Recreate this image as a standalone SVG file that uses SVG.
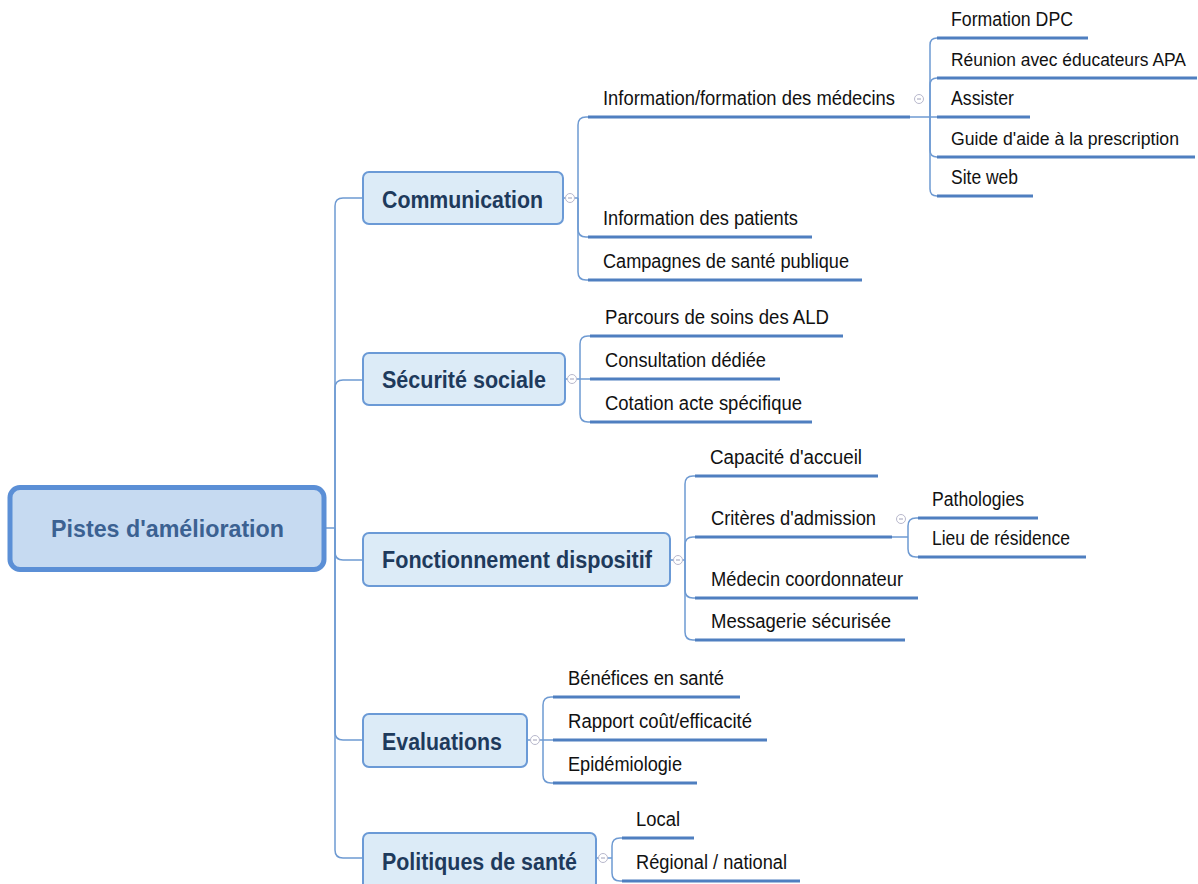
<svg xmlns="http://www.w3.org/2000/svg" width="1198" height="884" viewBox="0 0 1198 884">
<style>
.bg{fill:#ffffff}
.root rect{fill:#c6daf1;stroke:#5b8fd6;stroke-width:5}
.root text{font-family:"Liberation Sans",Arial,sans-serif;font-weight:bold;font-size:24px;fill:#3b6192}
.l1 rect{fill:#dcebf7;stroke:#6b9ad6;stroke-width:2}
.l1 text{font-family:"Liberation Sans",Arial,sans-serif;font-weight:bold;font-size:23px;fill:#1e3a5c}
.leaf text{font-family:"Liberation Sans",Arial,sans-serif;font-size:19.5px;fill:#111111}
.leaf text.sm{font-size:17.5px}
.ul{stroke:#4f7fc0;stroke-width:3;fill:none}
.cn{stroke:#6e9ad2;stroke-width:1.5;fill:none}
.col circle{fill:#ffffff;stroke:#b8b8cc;stroke-width:1}
.col line{stroke:#a0a0b8;stroke-width:1}
</style>
<rect class="bg" x="0" y="0" width="1198" height="884"/>

<g id="connectors">
  <path class="cn" d="M324,528 H335"/>
  <path class="cn" d="M335,528 V206 Q335,198 343,198 H363"/>
  <path class="cn" d="M335,528 V388 Q335,380 343,380 H363"/>
  <path class="cn" d="M335,528 V552 Q335,560 343,560 H363"/>
  <path class="cn" d="M335,528 V732 Q335,740 343,740 H363"/>
  <path class="cn" d="M335,528 V850 Q335,858 343,858 H363"/>
  <path class="cn" d="M563,198 H565.5 M574.5,198 H578"/>
  <path class="cn" d="M578,198 V125 Q578,117 586,117 H588"/>
  <path class="cn" d="M578,198 V229 Q578,237 586,237 H588"/>
  <path class="cn" d="M578,198 V272 Q578,280 586,280 H588"/>
  <path class="cn" d="M910,117 H937"/>
  <path class="cn" d="M930,117 V45 Q930,38 937,38"/>
  <path class="cn" d="M930,117 V85 Q930,78 937,78"/>
  <path class="cn" d="M930,117 V150 Q930,157 937,157"/>
  <path class="cn" d="M930,117 V189 Q930,196 937,196"/>
  <path class="cn" d="M565,379 H567.5 M576.5,379 H590"/>
  <path class="cn" d="M580,379 V344 Q580,336 588,336 H590"/>
  <path class="cn" d="M580,379 V414 Q580,422 588,422 H590"/>
  <path class="cn" d="M670,560 H673.5 M682.5,560 H685"/>
  <path class="cn" d="M685,560 V484 Q685,476 693,476 H695"/>
  <path class="cn" d="M685,560 V545 Q685,537 693,537 H695"/>
  <path class="cn" d="M685,560 V590 Q685,598 693,598 H695"/>
  <path class="cn" d="M685,560 V632 Q685,640 693,640 H695"/>
  <path class="cn" d="M892,537 H908"/>
  <path class="cn" d="M908,537 V526 Q908,518 916,518 H918"/>
  <path class="cn" d="M908,537 V549 Q908,557 916,557 H918"/>
  <path class="cn" d="M527,740 H530.5 M539.5,740 H553"/>
  <path class="cn" d="M543,740 V705 Q543,697 551,697 H553"/>
  <path class="cn" d="M543,740 V775 Q543,783 551,783 H553"/>
  <path class="cn" d="M596,858 H598.5 M607.5,858 H612"/>
  <path class="cn" d="M612,858 V846 Q612,838 620,838 H622"/>
  <path class="cn" d="M612,858 V873 Q612,881 620,881 H622"/>
</g>

<g id="collapse-markers" class="col">
  <circle cx="570" cy="198" r="4.5"/><line x1="568" y1="198" x2="572" y2="198"/>
  <circle cx="572" cy="379" r="4.5"/><line x1="570" y1="379" x2="574" y2="379"/>
  <circle cx="678" cy="560" r="4.5"/><line x1="676" y1="560" x2="680" y2="560"/>
  <circle cx="535" cy="740" r="4.5"/><line x1="533" y1="740" x2="537" y2="740"/>
  <circle cx="603" cy="858" r="4.5"/><line x1="601" y1="858" x2="605" y2="858"/>
  <circle cx="919" cy="99" r="4.5"/><line x1="917" y1="99" x2="921" y2="99"/>
  <circle cx="901" cy="519" r="4.5"/><line x1="899" y1="519" x2="903" y2="519"/>
</g>

<g id="root" class="root">
  <rect x="10" y="487.5" width="314" height="82" rx="10"/>
  <text x="51" y="537" textLength="233" lengthAdjust="spacingAndGlyphs">Pistes d'amélioration</text>
</g>

<g id="communication" class="l1">
  <rect x="363" y="172" width="200" height="52" rx="6"/>
  <text x="382" y="208" textLength="161" lengthAdjust="spacingAndGlyphs">Communication</text>
</g>
<g id="securite-sociale" class="l1">
  <rect x="363" y="353" width="202" height="52" rx="6"/>
  <text x="382" y="388" textLength="164" lengthAdjust="spacingAndGlyphs">Sécurité sociale</text>
</g>
<g id="fonctionnement" class="l1">
  <rect x="363" y="533" width="307" height="53" rx="6"/>
  <text x="382" y="568" textLength="270" lengthAdjust="spacingAndGlyphs">Fonctionnement dispositif</text>
</g>
<g id="evaluations" class="l1">
  <rect x="363" y="714" width="164" height="53" rx="6"/>
  <text x="382" y="750" textLength="120" lengthAdjust="spacingAndGlyphs">Evaluations</text>
</g>
<g id="politiques" class="l1">
  <rect x="363" y="833" width="233" height="56" rx="6"/>
  <text x="382" y="870" textLength="195" lengthAdjust="spacingAndGlyphs">Politiques de santé</text>
</g>

<g id="info-formation" class="leaf">
  <text x="603" y="105" textLength="292" lengthAdjust="spacingAndGlyphs">Information/formation des médecins</text>
  <line class="ul" x1="588" y1="117" x2="910" y2="117"/>
</g>
<g id="info-patients" class="leaf">
  <text x="603" y="225" textLength="195" lengthAdjust="spacingAndGlyphs">Information des patients</text>
  <line class="ul" x1="588" y1="237" x2="812" y2="237"/>
</g>
<g id="campagnes" class="leaf">
  <text x="603" y="268" textLength="246" lengthAdjust="spacingAndGlyphs">Campagnes de santé publique</text>
  <line class="ul" x1="588" y1="280" x2="862" y2="280"/>
</g>

<g id="formation-dpc" class="leaf">
  <text x="951" y="26" textLength="122" lengthAdjust="spacingAndGlyphs">Formation DPC</text>
  <line class="ul" x1="937" y1="38" x2="1088" y2="38"/>
</g>
<g id="reunion" class="leaf">
  <text class="sm" x="951" y="66" textLength="235" lengthAdjust="spacingAndGlyphs">Réunion avec éducateurs APA</text>
  <line class="ul" x1="937" y1="78" x2="1197" y2="78"/>
</g>
<g id="assister" class="leaf">
  <text x="951" y="105" textLength="63" lengthAdjust="spacingAndGlyphs">Assister</text>
  <line class="ul" x1="937" y1="117" x2="1030" y2="117"/>
</g>
<g id="guide" class="leaf">
  <text class="sm" x="951" y="145" textLength="228" lengthAdjust="spacingAndGlyphs">Guide d'aide à la prescription</text>
  <line class="ul" x1="937" y1="157" x2="1195" y2="157"/>
</g>
<g id="site-web" class="leaf">
  <text x="951" y="184" textLength="67" lengthAdjust="spacingAndGlyphs">Site web</text>
  <line class="ul" x1="937" y1="196" x2="1033" y2="196"/>
</g>

<g id="parcours" class="leaf">
  <text x="605" y="324" textLength="224" lengthAdjust="spacingAndGlyphs">Parcours de soins des ALD</text>
  <line class="ul" x1="590" y1="336" x2="843" y2="336"/>
</g>
<g id="consultation" class="leaf">
  <text x="605" y="367" textLength="161" lengthAdjust="spacingAndGlyphs">Consultation dédiée</text>
  <line class="ul" x1="590" y1="379" x2="780" y2="379"/>
</g>
<g id="cotation" class="leaf">
  <text x="605" y="410" textLength="197" lengthAdjust="spacingAndGlyphs">Cotation acte spécifique</text>
  <line class="ul" x1="590" y1="422" x2="812" y2="422"/>
</g>

<g id="capacite" class="leaf">
  <text x="710" y="464" textLength="152" lengthAdjust="spacingAndGlyphs">Capacité d'accueil</text>
  <line class="ul" x1="695" y1="476" x2="878" y2="476"/>
</g>
<g id="criteres" class="leaf">
  <text x="711" y="525" textLength="165" lengthAdjust="spacingAndGlyphs">Critères d'admission</text>
  <line class="ul" x1="695" y1="537" x2="892" y2="537"/>
</g>
<g id="medecin" class="leaf">
  <text x="711" y="586" textLength="192" lengthAdjust="spacingAndGlyphs">Médecin coordonnateur</text>
  <line class="ul" x1="695" y1="598" x2="918" y2="598"/>
</g>
<g id="messagerie" class="leaf">
  <text x="711" y="628" textLength="180" lengthAdjust="spacingAndGlyphs">Messagerie sécurisée</text>
  <line class="ul" x1="695" y1="640" x2="905" y2="640"/>
</g>

<g id="pathologies" class="leaf">
  <text x="932" y="506" textLength="92" lengthAdjust="spacingAndGlyphs">Pathologies</text>
  <line class="ul" x1="918" y1="518" x2="1038" y2="518"/>
</g>
<g id="lieu" class="leaf">
  <text x="932" y="545" textLength="138" lengthAdjust="spacingAndGlyphs">Lieu de résidence</text>
  <line class="ul" x1="918" y1="557" x2="1086" y2="557"/>
</g>

<g id="benefices" class="leaf">
  <text x="568" y="685" textLength="156" lengthAdjust="spacingAndGlyphs">Bénéfices en santé</text>
  <line class="ul" x1="553" y1="697" x2="740" y2="697"/>
</g>
<g id="rapport" class="leaf">
  <text x="568" y="728" textLength="184" lengthAdjust="spacingAndGlyphs">Rapport coût/efficacité</text>
  <line class="ul" x1="553" y1="740" x2="767" y2="740"/>
</g>
<g id="epidemiologie" class="leaf">
  <text x="568" y="771" textLength="114" lengthAdjust="spacingAndGlyphs">Epidémiologie</text>
  <line class="ul" x1="553" y1="783" x2="697" y2="783"/>
</g>

<g id="local" class="leaf">
  <text x="636" y="826" textLength="44" lengthAdjust="spacingAndGlyphs">Local</text>
  <line class="ul" x1="622" y1="838" x2="694" y2="838"/>
</g>
<g id="regional" class="leaf">
  <text x="636" y="869" textLength="151" lengthAdjust="spacingAndGlyphs">Régional / national</text>
  <line class="ul" x1="622" y1="881" x2="800" y2="881"/>
</g>
</svg>
